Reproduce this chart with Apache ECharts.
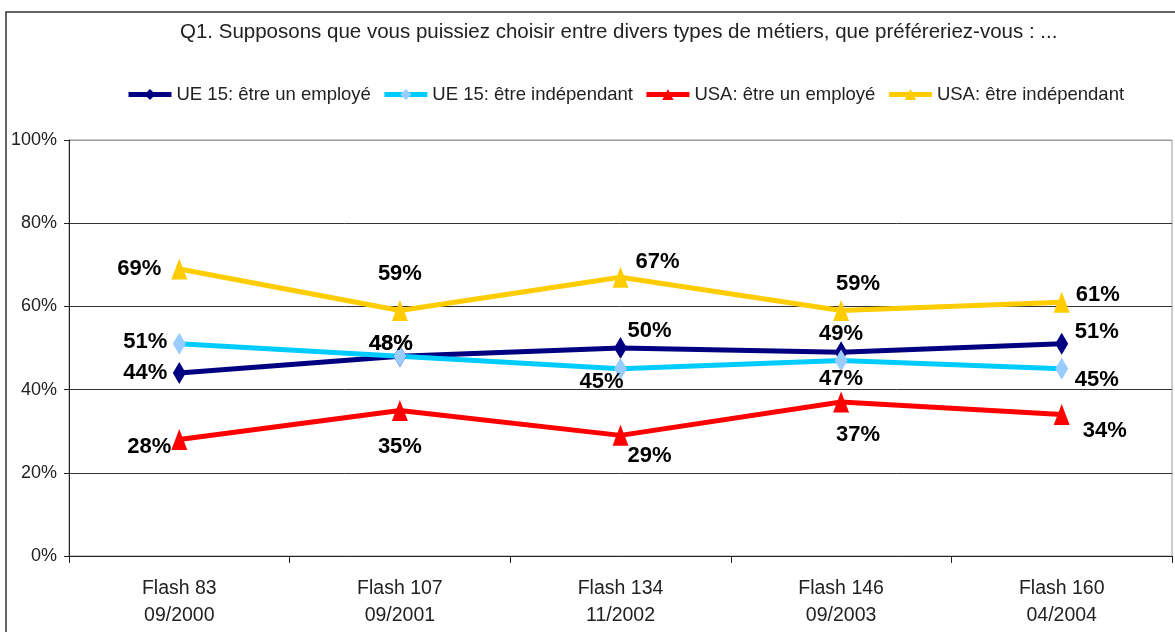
<!DOCTYPE html>
<html>
<head>
<meta charset="utf-8">
<script src="https://cdn.jsdelivr.net/npm/echarts@6/dist/echarts.min.js"></script>
<style>
  html, body { margin: 0; padding: 0; background: #fff; }
  #chart { width: 1175px; height: 632px; }
</style>
</head>
<body>
<div id="chart"></div>
<script>
  // données
  const categories = ['Flash 83\n09/2000', 'Flash 107\n09/2001', 'Flash 134\n11/2002', 'Flash 146\n09/2003', 'Flash 160\n04/2004'];
  const ueEmploye = [44, 48, 50, 49, 51];
  const ueIndependant = [51, 48, 45, 47, 45];
  const usaEmploye = [28, 35, 29, 37, 34];
  const usaIndependant = [69, 59, 67, 59, 61];
  const yTicks = [0, 20, 40, 60, 80, 100];

  // décalage des étiquettes par rapport au point
  const ueEmployeOffsets = [[-34, 0], [-9, -12], [29, -17], [0, -18], [35, -12]];
  const ueIndepOffsets = [[-34, -2], [-9, -12], [-19, 13], [0, 18], [35, 11]];
  const usaEmployeOffsets = [[-30, 7], [0, 37], [29, 21], [17, 33], [43, 16]];
  const usaIndepOffsets = [[-40, 0], [0, -37], [37, -15], [17, -27], [36, -7]];

  const font = "'Liberation Sans', Arial, sans-serif";

  const withLabels = (values, offsets) => values.map((v, i) => ({
    value: v,
    label: { offset: offsets[i] }
  }));

  const labelStyle = {
    show: true,
    position: 'inside',
    formatter: '{c}%',
    color: '#000',
    fontFamily: font,
    fontWeight: 'bold',
    fontSize: 22
  };

  const makeSeries = (name, values, offsets, color, symbol, symbolColor, size) => ({
    name: name,
    type: 'line',
    data: withLabels(values, offsets),
    symbol: symbol,
    symbolSize: size,
    lineStyle: { color: color, width: 5 },
    itemStyle: { color: symbolColor, borderWidth: 0 },
    label: labelStyle,
    emphasis: { disabled: true },
    animation: false,
    z: 3
  });

  const chart = echarts.init(document.getElementById('chart'));

  const option = {
    backgroundColor: '#fff',
    textStyle: { fontFamily: font },
    title: {
      text: 'Q1. Supposons que vous puissiez choisir entre divers types de métiers, que préféreriez-vous : ...',
      left: 175,
      top: 17,
      textStyle: { fontFamily: font, fontWeight: 'normal', fontSize: 20.5, color: '#222' }
    },
    legend: {
      left: 121,
      top: 80,
      itemWidth: 43,
      itemHeight: 14,
      itemGap: 11,
      lineStyle: { width: 5 },
      textStyle: { fontFamily: font, fontSize: 18.5, color: '#222' },
      data: ['UE 15: être un employé', 'UE 15: être indépendant', 'USA: être un employé', 'USA: être indépendant']
    },
    grid: {
      left: 69,
      right: 3,
      top: 140,
      bottom: 76,
      show: true,
      borderColor: '#999',
      borderWidth: 1
    },
    xAxis: {
      type: 'category',
      data: categories,
      boundaryGap: true,
      axisLine: { lineStyle: { color: '#222', width: 1 } },
      axisTick: { show: true, length: 7, lineStyle: { color: '#222' } },
      axisLabel: { margin: 19, fontFamily: font, fontSize: 19.5, lineHeight: 27, color: '#222' }
    },
    yAxis: {
      type: 'value',
      min: yTicks[0],
      max: yTicks[yTicks.length - 1],
      interval: 20,
      axisLine: { show: true, lineStyle: { color: '#222', width: 1 } },
      axisTick: { show: true, length: 5, lineStyle: { color: '#222' } },
      axisLabel: { margin: 12, fontFamily: font, fontSize: 18, color: '#222', formatter: '{value}%' },
      splitLine: { show: true, lineStyle: { color: ['#333', '#333', '#333', '#333', '#333', '#999'], width: 1 } }
    },
    series: [
      makeSeries('UE 15: être un employé', ueEmploye, ueEmployeOffsets, '#000080', 'diamond', '#000080', [13, 22]),
      makeSeries('UE 15: être indépendant', ueIndependant, ueIndepOffsets, '#00CCFF', 'diamond', '#99CCFF', [13, 22]),
      makeSeries('USA: être un employé', usaEmploye, usaEmployeOffsets, '#FF0000', 'triangle', '#FF0000', [16, 21]),
      makeSeries('USA: être indépendant', usaIndependant, usaIndepOffsets, '#FFCC00', 'triangle', '#FFCC00', [16, 21])
    ],
    graphic: [{
      type: 'rect',
      shape: { x: 6, y: 12, width: 1200, height: 700 },
      style: { fill: 'none', stroke: '#333', lineWidth: 1.5 },
      silent: true,
      z: 0
    }]
  };

  chart.setOption(option);
</script>
</body>
</html>
